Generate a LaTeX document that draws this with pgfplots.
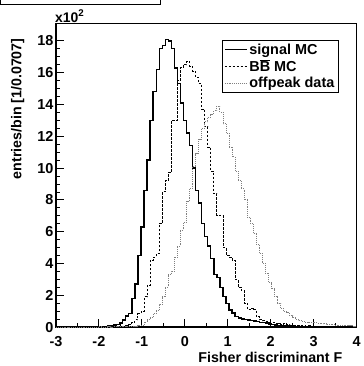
\documentclass[border=0pt]{standalone}
\usepackage{pgfplots}
\pgfplotsset{compat=1.18}
\usepackage{pgfplotstable}
\usepackage{fontspec}
\setmainfont{Liberation Sans}
\pgfplotstableread{
x sig bb off
-3.0000 0.00 0.00 0.00
-2.9293 0.00 0.00 0.00
-2.8586 0.00 0.00 0.00
-2.7879 0.00 0.00 0.00
-2.7172 0.01 0.00 0.00
-2.6465 0.00 0.00 0.00
-2.5758 0.02 0.00 0.00
-2.5051 0.01 0.00 0.00
-2.4343 0.02 0.00 0.00
-2.3636 0.02 0.01 0.00
-2.2929 0.02 0.00 0.00
-2.2222 0.03 0.01 0.00
-2.1515 0.02 0.00 0.00
-2.0808 0.04 0.01 0.00
-2.0101 0.03 0.01 0.01
-1.9394 0.05 0.01 0.00
-1.8687 0.05 0.02 0.00
-1.7980 0.08 0.01 0.01
-1.7273 0.10 0.02 0.00
-1.6566 0.12 0.02 0.01
-1.5859 0.18 0.03 0.01
-1.5152 0.25 0.04 0.01
-1.4444 0.45 0.06 0.02
-1.3737 0.70 0.10 0.02
-1.3030 0.85 0.15 0.03
-1.2323 1.80 0.30 0.03
-1.1616 2.70 0.45 0.05
-1.0909 4.50 0.85 0.08
-1.0202 6.30 1.00 0.12
-0.9495 8.60 1.90 0.30
-0.8788 10.50 2.60 0.45
-0.8081 13.00 4.20 0.60
-0.7374 14.80 4.40 0.85
-0.6667 16.20 4.60 1.07
-0.5960 17.50 6.50 1.40
-0.5253 17.70 8.50 1.90
-0.4545 18.10 9.20 2.50
-0.3838 18.00 9.70 3.30
-0.3131 17.50 13.00 3.50
-0.2424 16.30 13.00 4.40
-0.1717 15.30 15.50 5.10
-0.1010 14.10 16.30 6.10
-0.0303 13.00 16.50 6.60
0.0404 12.20 16.70 7.90
0.1111 11.40 16.40 8.70
0.1818 10.00 16.10 10.10
0.2525 8.60 15.70 10.90
0.3232 7.80 15.30 11.80
0.3939 6.50 13.70 12.50
0.4646 5.70 12.60 12.90
0.5354 5.10 11.30 13.20
0.6061 4.30 9.80 13.40
0.6768 3.30 8.40 13.60
0.7475 3.10 7.00 13.90
0.8182 2.50 7.00 13.50
0.8889 1.90 5.00 12.80
0.9596 1.50 4.50 12.20
1.0303 1.07 4.40 11.30
1.1010 0.88 4.20 10.70
1.1717 0.65 3.00 9.80
1.2424 0.56 2.50 9.20
1.3131 0.50 2.30 8.70
1.3838 0.48 1.50 8.00
1.4545 0.45 1.10 6.90
1.5253 0.42 1.20 6.50
1.5960 0.38 1.10 5.90
1.6667 0.35 0.65 5.20
1.7374 0.30 0.45 4.60
1.8081 0.28 0.40 4.00
1.8788 0.25 0.35 3.40
1.9495 0.20 0.30 2.80
2.0202 0.15 0.30 2.40
2.0909 0.12 0.25 1.90
2.1616 0.10 0.22 1.50
2.2323 0.08 0.18 1.20
2.3030 0.07 0.20 1.00
2.3737 0.06 0.14 0.90
2.4444 0.05 0.12 0.70
2.5152 0.05 0.12 0.60
2.5859 0.04 0.10 0.45
2.6566 0.04 0.08 0.40
2.7273 0.03 0.08 0.35
2.7980 0.03 0.06 0.32
2.8687 0.02 0.07 0.30
2.9394 0.02 0.05 0.30
3.0101 0.01 0.05 0.28
3.0808 0.02 0.04 0.25
3.1515 0.01 0.04 0.20
3.2222 0.01 0.03 0.22
3.2929 0.01 0.03 0.18
3.3636 0.01 0.02 0.15
3.4343 0.00 0.03 0.18
3.5051 0.01 0.02 0.12
3.5758 0.00 0.02 0.10
3.6465 0.01 0.01 0.12
3.7172 0.00 0.02 0.10
3.7879 0.00 0.01 0.08
3.8586 0.01 0.01 0.10
3.9293 0.00 0.01 0.06
4.0000 0.00 0.01 0.06
}\hist
\begin{document}
\begin{tikzpicture}
\begin{axis}[
  at={(0,0)}, anchor=south west,
  scale only axis, width=301bp, height=304bp,
  xmin=-3, xmax=4, ymin=0, ymax=19.1,
  xtick={-3,-2,...,4}, minor xtick={-2.5,-1.5,...,3.5},
  ytick={0,2,...,18}, minor y tick num=3,
  tick align=inside, xtick pos=bottom, ytick pos=left,
  major tick length=8bp, minor tick length=4.5bp,
  every tick/.style={black, line width=0.8bp},
  axis line style={line width=1.2bp},
  /pgf/number format/assume math mode=true,
  ticklabel style={font=\bfseries\fontsize{14.5}{14.5}\selectfont},
  xticklabel style={yshift=-6bp},
  yticklabel style={xshift=1bp},
  xlabel={Fisher discriminant F},
  xlabel style={at={(axis description cs:0.953,-0.082)}, anchor=north east, inner sep=0pt, font=\bfseries\fontsize{14.3}{14.3}\selectfont},
  ylabel={entries/bin [1/0.0707]},
  ylabel style={at={(axis description cs:-0.15,0.951)}, anchor=north east, inner sep=0pt, font=\bfseries\fontsize{14.3}{14.3}\selectfont},
  legend cell align=left,
  legend image code/.code={\draw[#1] (0bp,0bp) -- (22bp,0bp);},
  legend style={at={(axis description cs:0.551,0.944)}, anchor=north west, draw=black, line width=1bp, inner xsep=2bp, inner ysep=1bp, row sep=0bp, font=\bfseries\fontsize{14.5}{15.5}\selectfont},
]
\addplot[const plot, black, line width=1.3bp] table[x=x, y=sig] {\hist};
\addlegendentry{signal MC}
\addplot[const plot, black, line width=0.9bp, dash pattern=on 2.5bp off 1.5bp] table[x=x, y=bb] {\hist};
\addlegendentry{B$\overline{\mbox{B}}$ MC}
\addplot[const plot, black!50, line width=0.9bp, dash pattern=on 0.9bp off 1bp] table[x=x, y=off] {\hist};
\addlegendentry{offpeak data}
\end{axis}
\node[anchor=south west, inner sep=0pt, font=\bfseries\fontsize{14}{14}\selectfont] at (-1bp,305bp) {x10\textsuperscript{2}};
\draw[line width=0.8bp] (-55.6bp,327bp) -- (-55.6bp,323bp) -- (105bp,323bp) -- (105bp,327bp);
\path[use as bounding box] (-56bp,-39bp) rectangle (304bp,327bp);
\end{tikzpicture}
\end{document}
